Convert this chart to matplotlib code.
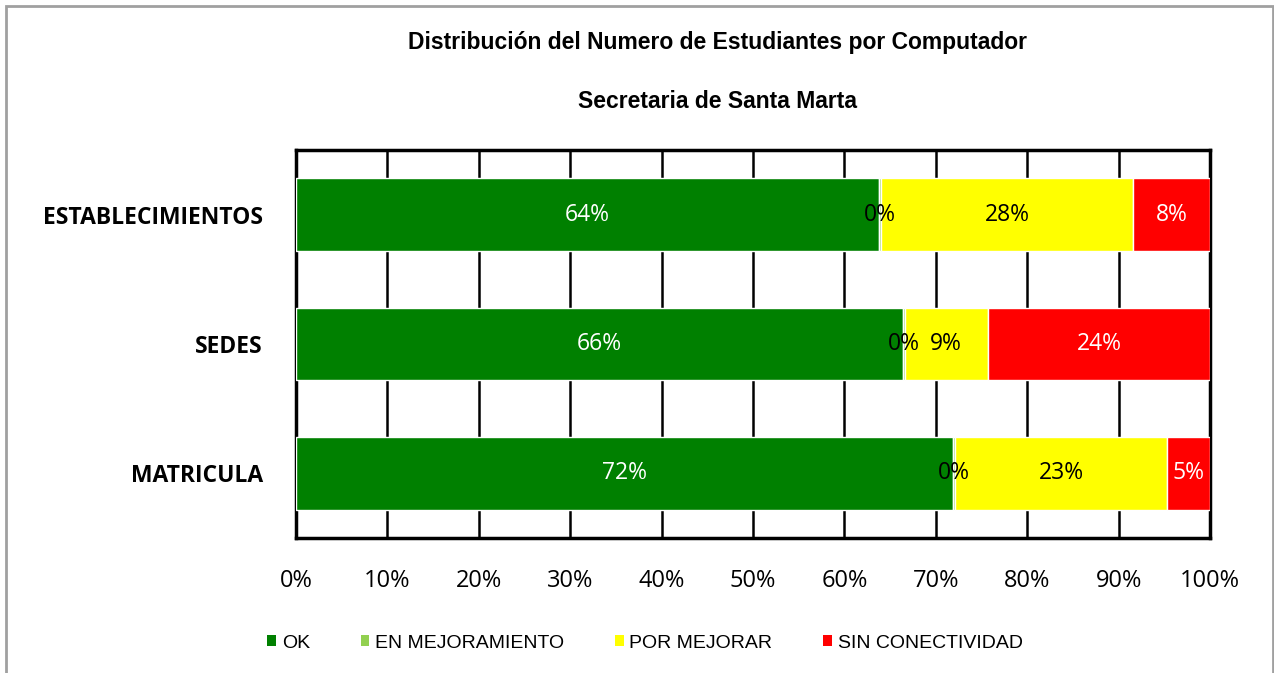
import matplotlib.pyplot as plt
from matplotlib.patches import Patch, Rectangle
import numpy as np

# data (percent)
categories = ['ESTABLECIMIENTOS', 'SEDES', 'MATRICULA']
ok = [63.8, 66.4, 71.9]
en_mejoramiento = [0.2, 0.2, 0.2]
por_mejorar = [27.6, 9.1, 23.2]
sin_conectividad = [8.4, 24.3, 4.7]
series_names = ['OK', 'EN MEJORAMIENTO', 'POR MEJORAR', 'SIN CONECTIVIDAD']
colors = ['#008000', '#92D050', '#FFFF00', '#FF0000']
label_colors = ['white', 'black', 'black', 'white']
ticks = np.arange(0, 101, 10)

fig = plt.figure(figsize=(12.74, 6.73), dpi=100)
ax = fig.add_axes([296 / 1274, 1 - 538 / 673, 914 / 1274, 388 / 673])

# outer chart frame
fig.patches.append(Rectangle((6 / 1274, -0.01), 1267 / 1274, 1 - 6 / 673 + 0.01,
                             transform=fig.transFigure, fill=False,
                             edgecolor='#A0A0A0', linewidth=2))

y = np.arange(len(categories))[::-1]
left = np.zeros(len(categories))
for vals, name, col, lcol in zip([ok, en_mejoramiento, por_mejorar, sin_conectividad],
                                 series_names, colors, label_colors):
    vals = np.array(vals)
    ax.barh(y, vals, left=left, height=0.56, color=col, edgecolor='white',
            linewidth=1, zorder=3)
    for yi, l, v in zip(y, left, vals):
        ax.text(l + v / 2, yi, f'{v:.0f}%', ha='center', va='center',
                color=lcol, fontsize=16.5, family='Open Sans', zorder=4)
    left = left + vals

ax.set_xlim(0, 100)
ax.set_ylim(-0.5, 2.5)
ax.set_xticks(ticks)
ax.set_xticklabels([f'{t}%' for t in ticks], fontsize=17, family='Open Sans')
ax.tick_params(axis='x', length=0, pad=22)
ax.set_yticks(y)
ax.set_yticklabels(categories, fontsize=16.5, fontweight='bold', family='Open Sans')
ax.tick_params(axis='y', length=0, pad=24)
ax.xaxis.grid(True, color='black', linewidth=1.8, zorder=0)
ax.set_axisbelow(True)
for s in ax.spines.values():
    s.set_linewidth(2.5)
    s.set_color('black')

fig.text(718 / 1274, 1 - 43 / 673, 'Distribución del Numero de Estudiantes por Computador',
         ha='center', va='center', fontsize=16.5, fontweight='bold', family='Liberation Sans')
fig.text(718 / 1274, 1 - 101 / 673, 'Secretaria de Santa Marta',
         ha='center', va='center', fontsize=16.5, fontweight='bold', family='Liberation Sans')

handles = [Patch(facecolor=c, edgecolor='none') for c in colors]
fig.legend(handles, series_names, loc='center', bbox_to_anchor=(645 / 1274, 1 - 643 / 673),
           ncol=4, frameon=False, handlelength=0.45, handleheight=0.45, handletextpad=0.3,
           columnspacing=2.6, prop={'family': 'Liberation Sans', 'size': 14})

fig.savefig('out.png', dpi=100)
